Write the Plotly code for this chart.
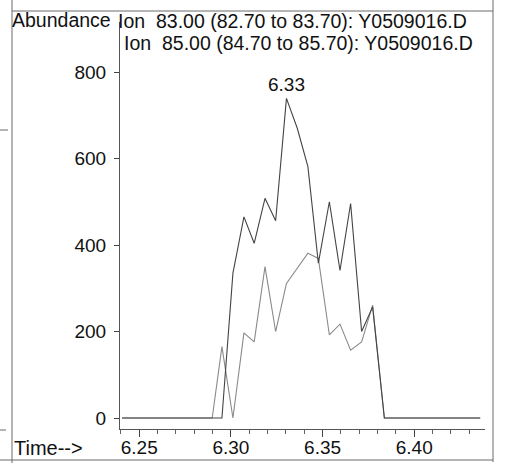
import plotly.graph_objects as go

# Retention time axis (min) for each scan
times = [6.2406, 6.2898, 6.2951, 6.3011, 6.3071, 6.3127, 6.3186, 6.3244, 6.3303,
         6.3362, 6.3420, 6.3477, 6.3537, 6.3595, 6.3653, 6.3713, 6.3773, 6.3837, 6.4360]

# Extracted ion abundances
ion83 = [0, 0, 0, 335, 465, 404, 508, 456, 739, 670, 581, 358, 500, 341, 496, 200, 257, 0, 0]
ion85 = [0, 0, 165, 0, 197, 176, 350, 200, 311, 347, 381, 369, 192, 217, 157, 176, 261, 0, 0]

ion_labels = ["Ion\u00a0 83.00 (82.70 to 83.70): Y0509016.D",
              "Ion\u00a0 85.00 (84.70 to 85.70): Y0509016.D"]

x_ticks = [6.25, 6.30, 6.35, 6.40]
y_ticks = [0, 200, 400, 600, 800]

W, H = 515, 466
L, R, T, B = 120, 30, 22, 37
PW, PH = W - L - R, H - T - B

FONT = "Liberation Sans, Arial, Helvetica, sans-serif"


def px(x):
    return (x - L) / PW


def py(y):
    return (H - B - y) / PH


fig = go.Figure()
fig.add_trace(go.Scatter(x=times, y=ion85, mode="lines",
                         line=dict(color="#8a8a8a", width=1.1), name=ion_labels[1]))
fig.add_trace(go.Scatter(x=times, y=ion83, mode="lines",
                         line=dict(color="#444444", width=1.1), name=ion_labels[0]))

# label the apex of the main peak with its retention time
i_max = max(range(len(ion83)), key=lambda i: ion83[i])
fig.add_annotation(x=times[i_max], y=ion83[i_max], text=f"{times[i_max]:.2f}",
                   showarrow=False, yanchor="bottom", yshift=1,
                   font=dict(family=FONT, size=19, color="#111"))

# header lines
HDR = 19.5
hdr = dict(xref="paper", yref="paper", xanchor="left", yanchor="top",
           showarrow=False, borderpad=0, font=dict(family=FONT, size=HDR, color="#111"))
fig.add_annotation(x=px(11), y=py(8.5), text="Abundance", **hdr)
fig.add_annotation(x=px(117), y=py(8.5), text=ion_labels[0], **hdr)
fig.add_annotation(x=px(123), y=py(31), text=ion_labels[1], **hdr)
fig.add_annotation(x=px(12), y=py(448), xref="paper", yref="paper", xanchor="left",
                   yanchor="middle", text="Time-->", showarrow=False,
                   font=dict(family=FONT, size=20, color="#111"))

# page frame around the chromatogram
frame = "#6a6a6a"
for (x0, y0, x1, y1) in [(12, 0, 12, 463), (12, 11, 493, 11), (493, 0, 493, 462),
                         (0, 460, 493, 460), (0, 130, 8, 130), (0, 430, 6, 430)]:
    fig.add_shape(type="line", xref="paper", yref="paper",
                  x0=px(x0), y0=py(y0), x1=px(x1), y1=py(y1),
                  line=dict(color=frame, width=1))

fig.update_layout(
    width=W, height=H,
    margin=dict(l=L, r=R, t=T, b=B, autoexpand=False),
    paper_bgcolor="white", plot_bgcolor="white",
    showlegend=False,
    font=dict(family=FONT, size=19, color="#111"),
    xaxis=dict(range=[6.2395, 6.4386], tickvals=x_ticks, tickformat=".2f",
               ticks="outside", ticklen=7, tickcolor="#444", automargin=False,
               minor=dict(dtick=0.01, tick0=6.25, ticks="outside", ticklen=4, tickcolor="#666"),
               showline=True, linecolor="#555", linewidth=1,
               showgrid=False, zeroline=False, tickfont=dict(size=19),
               ticklabelstandoff=-6),
    yaxis=dict(range=[-25.4, 915.6], tickvals=y_ticks, automargin=False,
               ticks="outside", ticklen=5, tickcolor="#444",
               showline=True, linecolor="#555", linewidth=1,
               showgrid=False, zeroline=False, tickfont=dict(size=19),
               ticklabelstandoff=4),
)

fig.write_html("out.html")
